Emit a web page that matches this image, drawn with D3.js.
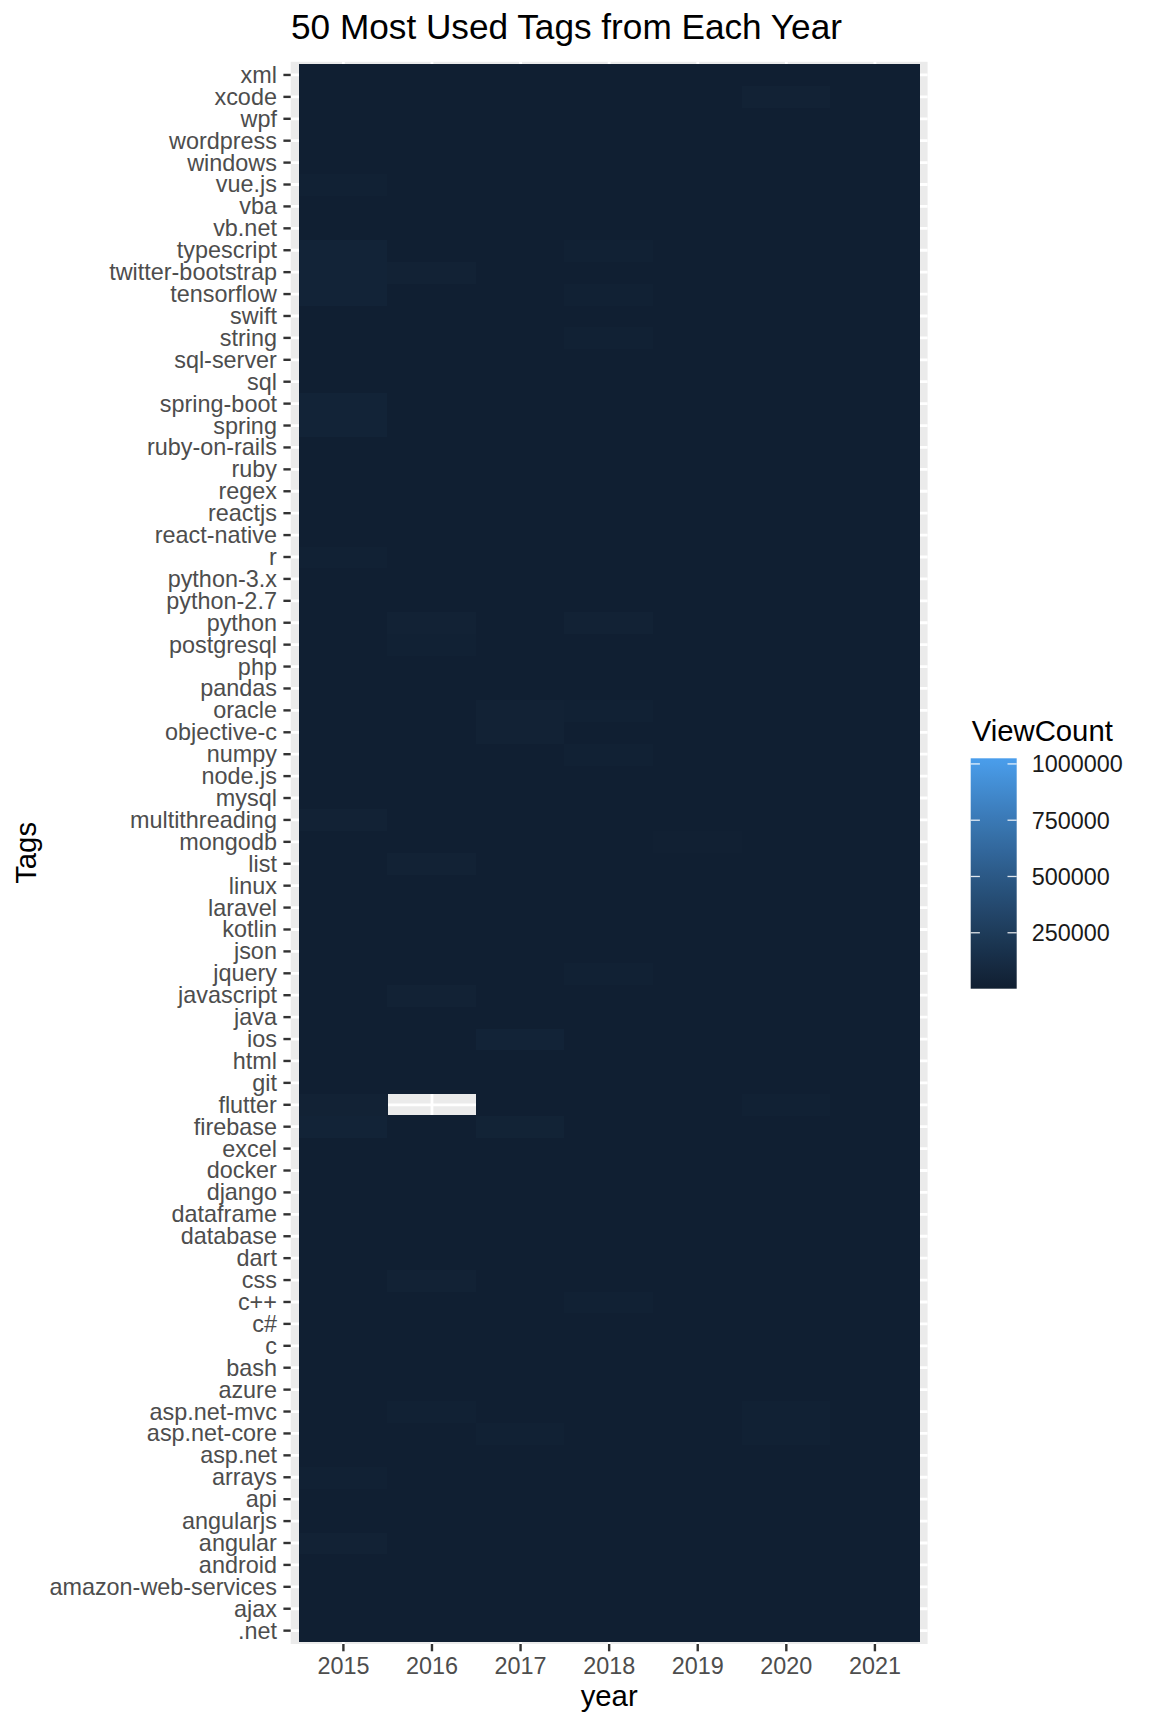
<!DOCTYPE html>
<html>
<head>
<meta charset="utf-8">
<script src="https://cdn.jsdelivr.net/npm/d3@7"></script>
<style>
  body { margin: 0; background: #fff; }
  text { font-family: "Liberation Sans", Arial, Helvetica, sans-serif; }
</style>
</head>
<body>
<div id="chart"></div>
<script>
// tags, alphabetical (.net at the bottom of the chart, xml at the top)
var tags = [".net", "ajax", "amazon-web-services", "android", "angular", "angularjs", "api", "arrays", "asp.net", "asp.net-core", "asp.net-mvc", "azure",
  "bash", "c", "c#", "c++", "css", "dart", "database", "dataframe", "django", "docker", "excel", "firebase",
  "flutter", "git", "html", "ios", "java", "javascript", "jquery", "json", "kotlin", "laravel", "linux", "list",
  "mongodb", "multithreading", "mysql", "node.js", "numpy", "objective-c", "oracle", "pandas", "php", "postgresql", "python", "python-2.7",
  "python-3.x", "r", "react-native", "reactjs", "regex", "ruby", "ruby-on-rails", "spring", "spring-boot", "sql", "sql-server", "string",
  "swift", "tensorflow", "twitter-bootstrap", "typescript", "vb.net", "vba", "vue.js", "windows", "wordpress", "wpf", "xcode", "xml"];

var years = ["2015", "2016", "2017", "2018", "2019", "2020", "2021"];

// ViewCount per tag, in thousands (null = no tile)
var views2015 = [6, 6, 6, 6, 30, 6, 6, 20, 6, 6, 6, 6,
  6, 6, 6, 6, 6, 6, 6, 6, 6, 6, 6, 40,
  30, 6, 6, 6, 6, 6, 6, 6, 6, 6, 6, 6,
  6, 30, 6, 6, 6, 6, 6, 6, 6, 6, 6, 6,
  6, 20, 6, 6, 6, 6, 6, 40, 40, 6, 6, 6,
  6, 40, 40, 40, 6, 6, 20, 6, 6, 6, 6, 6];
var views2016 = [6, 6, 6, 6, 6, 6, 6, 6, 6, 6, 22, 6,
  6, 6, 6, 6, 30, 6, 6, 6, 6, 6, 6, 6,
  null, 6, 6, 6, 6, 30, 6, 6, 6, 6, 6, 30,
  6, 6, 6, 6, 6, 6, 6, 6, 6, 18, 30, 6,
  6, 6, 6, 6, 6, 6, 6, 6, 6, 6, 6, 6,
  6, 6, 30, 6, 6, 6, 6, 6, 6, 6, 6, 6];
var views2017 = [6, 6, 6, 6, 6, 6, 6, 6, 6, 22, 6, 6,
  6, 6, 6, 6, 6, 6, 6, 6, 6, 6, 6, 35,
  6, 6, 6, 40, 6, 6, 6, 6, 6, 6, 6, 6,
  6, 6, 6, 6, 6, 30, 30, 6, 6, 6, 6, 6,
  6, 6, 6, 6, 6, 6, 6, 6, 6, 6, 6, 6,
  6, 6, 6, 6, 6, 6, 6, 6, 6, 6, 6, 6];
var views2018 = [6, 6, 6, 6, 6, 6, 6, 6, 6, 6, 6, 6,
  6, 6, 6, 22, 6, 6, 6, 6, 6, 6, 6, 6,
  6, 6, 6, 6, 6, 6, 22, 6, 6, 6, 6, 6,
  6, 6, 6, 6, 20, 6, 22, 6, 6, 6, 30, 6,
  6, 6, 6, 6, 6, 6, 6, 6, 6, 6, 6, 20,
  6, 22, 6, 20, 6, 6, 6, 6, 6, 6, 6, 6];
var views2019 = [6, 6, 6, 6, 6, 6, 6, 6, 6, 6, 6, 6,
  6, 6, 6, 6, 6, 6, 6, 6, 6, 6, 6, 6,
  6, 6, 6, 6, 6, 6, 6, 6, 6, 6, 6, 6,
  15, 6, 6, 6, 6, 6, 6, 6, 6, 6, 6, 6,
  6, 6, 6, 6, 6, 6, 6, 6, 6, 6, 6, 6,
  6, 6, 6, 6, 6, 6, 6, 6, 6, 6, 6, 6];
var views2020 = [6, 6, 6, 6, 6, 6, 6, 6, 6, 20, 20, 6,
  6, 6, 6, 6, 6, 6, 6, 6, 6, 6, 6, 6,
  20, 6, 6, 6, 6, 6, 6, 6, 6, 6, 6, 6,
  6, 6, 6, 6, 6, 6, 6, 6, 6, 6, 6, 6,
  6, 6, 6, 6, 6, 6, 6, 6, 6, 6, 6, 6,
  6, 6, 6, 6, 6, 6, 6, 6, 6, 6, 30, 6];
var views2021 = [6, 6, 6, 6, 6, 6, 6, 6, 6, 6, 6, 6,
  6, 6, 6, 6, 6, 6, 6, 6, 6, 6, 6, 6,
  6, 6, 6, 6, 6, 6, 6, 6, 6, 6, 6, 6,
  6, 6, 6, 6, 6, 6, 6, 6, 6, 6, 6, 6,
  6, 6, 6, 6, 6, 6, 6, 6, 6, 6, 6, 6,
  6, 6, 6, 6, 6, 6, 6, 6, 6, 6, 6, 6];

// colour bar range and its labelled ticks
var viewRange = [1500, 1025000];
var legendTicks = [250000, 500000, 750000, 1000000];

var width = 1152, height = 1728;
var panel = {left: 290.7, right: 927.6, top: 61.8, bottom: 1644};
var font = '"Liberation Sans", Arial, Helvetica, sans-serif';

var svg = d3.select("#chart").append("svg")
    .attr("width", width)
    .attr("height", height);

// scales: ggplot pads a discrete axis by 0.6 of a band, tiles fill 1 band
var x = d3.scaleBand()
    .domain(years)
    .range([299.1, 919.2]);
var y = d3.scaleBand()
    .domain(tags.slice().reverse())
    .range([64.0, 1641.6]);
var color = d3.scaleLinear()
    .domain(viewRange)
    .range(["#101f31", "#4a9eec"])
    .interpolate(d3.interpolateLab);

// build long-format rows
var byYear = [views2015, views2016, views2017, views2018, views2019, views2020, views2021];
var cells = [];
years.forEach(function(yr, i) {
  tags.forEach(function(t, j) {
    var v = byYear[i][j];
    if (v != null) cells.push({year: yr, tag: t, value: v * 1000});
  });
});

// panel background + grid
svg.append("rect")
    .attr("x", panel.left)
    .attr("y", panel.top)
    .attr("width", panel.right - panel.left)
    .attr("height", panel.bottom - panel.top)
    .attr("fill", "#ebebeb");

svg.append("g").selectAll("line")
    .data(years)
  .enter().append("line")
    .attr("x1", function(d) { return x(d) + x.bandwidth() / 2; })
    .attr("x2", function(d) { return x(d) + x.bandwidth() / 2; })
    .attr("y1", panel.top)
    .attr("y2", panel.bottom)
    .attr("stroke", "#fff")
    .attr("stroke-width", 2.8);

svg.append("g").selectAll("line")
    .data(tags)
  .enter().append("line")
    .attr("y1", function(d) { return y(d) + y.bandwidth() / 2; })
    .attr("y2", function(d) { return y(d) + y.bandwidth() / 2; })
    .attr("x1", panel.left)
    .attr("x2", panel.right)
    .attr("stroke", "#fff")
    .attr("stroke-width", 2.8);

// tiles (crisp edges so no seams show between neighbours)
svg.append("g")
    .attr("shape-rendering", "crispEdges")
  .selectAll("rect")
    .data(cells)
  .enter().append("rect")
    .attr("x", function(d) { return Math.floor(x(d.year)); })
    .attr("y", function(d) { return Math.floor(y(d.tag)); })
    .attr("width", function(d) { return Math.ceil(x(d.year) + x.bandwidth()) - Math.floor(x(d.year)); })
    .attr("height", function(d) { return Math.ceil(y(d.tag) + y.bandwidth()) - Math.floor(y(d.tag)); })
    .attr("fill", function(d) { return color(d.value); });

// y axis
var yAxis = svg.append("g")
    .attr("transform", "translate(" + panel.left + ",0)")
    .call(d3.axisLeft(y).tickSize(7.3).tickPadding(6.5));
yAxis.select(".domain").remove();
yAxis.selectAll(".tick line").attr("stroke", "#333").attr("stroke-width", 2.4);
yAxis.selectAll(".tick text")
    .attr("fill", "#4d4d4d")
    .attr("dy", "0.34em")
    .style("font-family", font)
    .style("font-size", "23.4px");

// x axis
var xAxis = svg.append("g")
    .attr("transform", "translate(0," + panel.bottom + ")")
    .call(d3.axisBottom(x).tickSize(7.3).tickPadding(6));
xAxis.select(".domain").remove();
xAxis.selectAll(".tick line").attr("stroke", "#333").attr("stroke-width", 2.4);
xAxis.selectAll(".tick text")
    .attr("fill", "#4d4d4d")
    .attr("y", 30.3)
    .attr("dy", null)
    .style("font-family", font)
    .style("font-size", "23.4px");

// titles
svg.append("text")
    .attr("x", 291)
    .attr("y", 39.3)
    .style("font-size", "35.2px")
    .text("50 Most Used Tags from Each Year");

svg.append("text")
    .attr("x", (panel.left + panel.right) / 2)
    .attr("y", 1705.5)
    .attr("text-anchor", "middle")
    .style("font-size", "29.3px")
    .text("year");

svg.append("text")
    .attr("transform", "translate(35.5," + (panel.top + panel.bottom) / 2 + ") rotate(-90)")
    .attr("text-anchor", "middle")
    .style("font-size", "29.3px")
    .text("Tags");

// colour bar legend
var bar = {x: 970.7, w: 46, top: 758.3, bottom: 988.7};
var ly = d3.scaleLinear().domain(viewRange).range([bar.bottom, bar.top]);

var grad = svg.append("defs").append("linearGradient")
    .attr("id", "vc-grad")
    .attr("x1", 0).attr("y1", 1).attr("x2", 0).attr("y2", 0);
d3.range(0, 1.0001, 0.05).forEach(function(t) {
  grad.append("stop")
      .attr("offset", t)
      .attr("stop-color", color(viewRange[0] + t * (viewRange[1] - viewRange[0])));
});

svg.append("text")
    .attr("x", 971.7)
    .attr("y", 740.7)
    .style("font-size", "29.3px")
    .text("ViewCount");

svg.append("rect")
    .attr("x", bar.x)
    .attr("y", bar.top)
    .attr("width", bar.w)
    .attr("height", bar.bottom - bar.top)
    .attr("fill", "url(#vc-grad)");

var lt = svg.append("g").selectAll("g")
    .data(legendTicks)
  .enter().append("g")
    .attr("transform", function(d) { return "translate(0," + ly(d) + ")"; });
lt.append("line")
    .attr("x1", bar.x).attr("x2", bar.x + 9.2)
    .attr("stroke", "#fff").attr("stroke-opacity", 0.85).attr("stroke-width", 1.3);
lt.append("line")
    .attr("x1", bar.x + bar.w - 9.2).attr("x2", bar.x + bar.w)
    .attr("stroke", "#fff").attr("stroke-opacity", 0.85).attr("stroke-width", 1.3);
lt.append("text")
    .attr("x", 1031.7)
    .attr("dy", "0.36em")
    .attr("fill", "#1a1a1a")
    .style("font-size", "23.4px")
    .text(function(d) { return d; });
</script>
</body>
</html>
